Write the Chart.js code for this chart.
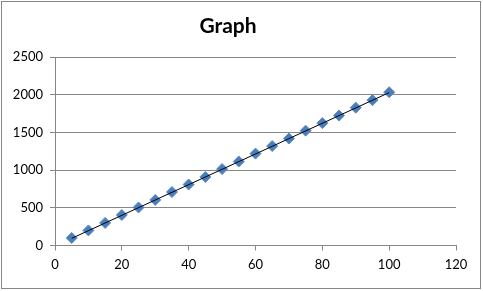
<!DOCTYPE html>
<html>
<head>
<meta charset="utf-8">
<script src="https://cdn.jsdelivr.net/npm/chart.js@4"></script>
<style>
    html, body { margin: 0; padding: 0; background: #fff; }
    #wrap { width: 483px; height: 291px; }
</style>
</head>
<body>
<div id="wrap"><canvas id="graphChart" width="483" height="291"></canvas></div>
<script>
var xValues = [5, 10, 15, 20, 25, 30, 35, 40, 45, 50, 55, 60, 65, 70, 75, 80, 85, 90, 95, 100];
var yValues = [100, 200, 300, 405, 505, 605, 710, 810, 910, 1015, 1115, 1220, 1320, 1420, 1525, 1625, 1725, 1830, 1930, 2035];
// trendline end points
var trendX = [5, 100];
var trendY = [95, 2030];

var gridGrey = '#868686';

var chartBorder = {
    id: 'chartBorder',
    afterDraw: function (chart) {
        var ctx = chart.ctx;
        ctx.save();
        ctx.strokeStyle = gridGrey;
        ctx.lineWidth = 1;
        ctx.strokeRect(1.5, 1.5, 479, 287);
        ctx.restore();
    }
};

var ctx = document.getElementById('graphChart');
var graphChart = new Chart(ctx, {
    type: 'scatter',
    data: {
        datasets: [{
            label: 'trend',
            data: trendX.map((x, i) => ({ x: x, y: trendY[i] })),
            showLine: true,
            borderColor: '#000',
            borderWidth: 1,
            pointRadius: 0,
            order: 0
        }, {
            label: 'values',
            data: xValues.map((x, i) => ({ x: x, y: yValues[i] })),
            pointStyle: 'rectRot',
            pointRadius: 5.5,
            backgroundColor: '#4A7EBB',
            borderColor: '#5B8BC6',
            borderWidth: 1,
            order: 1
        }]
    },
    options: {
        responsive: false,
        animation: false,
        layout: { padding: { top: 0, left: 0, right: 27, bottom: 0 } },
        plugins: {
            legend: { display: false },
            tooltip: { enabled: false },
            title: {
                display: true,
                text: 'Graph',
                color: '#000',
                font: { family: 'Lato', size: 21, weight: 'bold' },
                padding: { top: 14, bottom: 18 }
            }
        },
        scales: {
            x: {
                type: 'linear',
                min: 0,
                max: 120,
                ticks: {
                    stepSize: 20,
                    color: '#000',
                    padding: 7,
                    font: { family: 'Lato', size: 13 },
                    callback: function (v) { return String(v); }
                },
                grid: {
                    drawOnChartArea: false,
                    drawTicks: true,
                    tickLength: 5,
                    color: gridGrey
                },
                border: { display: true, color: gridGrey },
                afterFit: function (scale) { scale.height = 45.5; }
            },
            y: {
                min: 0,
                max: 2500,
                ticks: {
                    stepSize: 500,
                    color: '#000',
                    padding: 7,
                    font: { family: 'Lato', size: 13 },
                    callback: function (v) { return String(v); }
                },
                grid: {
                    color: gridGrey,
                    tickLength: 5
                },
                border: { display: true, color: gridGrey },
                afterFit: function (scale) { scale.width = 55; }
            }
        }
    },
    plugins: [chartBorder]
});
</script>
</body>
</html>
